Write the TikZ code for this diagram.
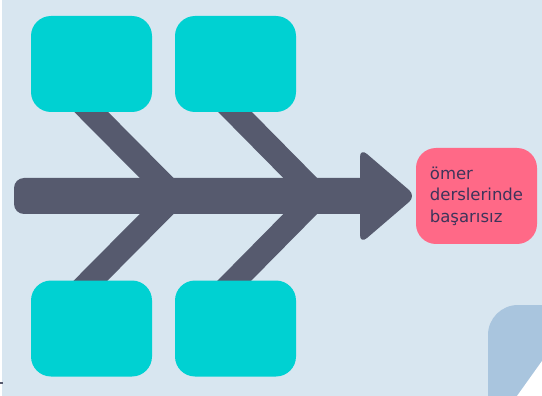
\documentclass[tikz,border=0pt]{standalone}
\usepackage{fontspec}
\setmainfont{DejaVu Sans}
\definecolor{bgc}{RGB}{216,230,240}
\definecolor{cyanbox}{RGB}{0,209,210}
\definecolor{spinec}{RGB}{86,90,110}
\definecolor{pinkc}{RGB}{255,105,135}
\definecolor{txtc}{RGB}{62,52,90}
\definecolor{cornerc}{RGB}{169,197,222}
\tikzset{
  causebox/.style={fill=cyanbox, rounded corners=20pt, minimum width=121pt, minimum height=96pt, inner sep=0pt},
  effectbox/.style={fill=pinkc, rounded corners=20pt, minimum width=121pt, minimum height=96pt, inner sep=0pt, text=txtc, font=\fontsize{16.5}{21.5}\selectfont, align=left},
  bone/.style={draw=spinec, line width=24pt}
}
\begin{document}
\begin{tikzpicture}[x=1pt,y=-1pt]
\useasboundingbox (0,0) rectangle (542,396);
% background
\fill[bgc] (0,0) rectangle (542,396);
\fill[white] (0,0) rectangle (2,396);
\fill[spinec] (0,382) rectangle (3,384);
% bottom-right corner shape
\fill[cornerc, rounded corners=30pt] (488,430) -- (488,305) -- (570,305) -- (570,430) -- cycle;
\fill[white] (517,396) -- (542,361) -- (542,396) -- cycle;
% junctions on spine
\coordinate (j1) at (174.5,196);
\coordinate (j2) at (318,196);
\coordinate (b1t) at (55.5,76);
\coordinate (b2t) at (199.5,76);
\coordinate (b1b) at (55.5,316);
\coordinate (b2b) at (199.5,316);
% bones
\draw[bone] (b1t) -- (j1);
\draw[bone] (b2t) -- (j2);
\draw[bone] (b1b) -- (j1);
\draw[bone] (b2b) -- (j2);
% spine
\fill[spinec, rounded corners=10pt] (14,178) rectangle (372,214);
\fill[spinec, rounded corners=9pt] (360,148) -- (416,196) -- (360,244) -- cycle;
% boxes
\node[causebox] (tl) at (91.5,64) {};
\node[causebox] (tr) at (235.5,64) {};
\node[causebox] (bl) at (91.5,328.5) {};
\node[causebox] (br) at (235.5,328.5) {};
\node[effectbox] (eff) at (476.5,196) {ömer\\derslerinde\\başarısız};
\end{tikzpicture}
\end{document}
